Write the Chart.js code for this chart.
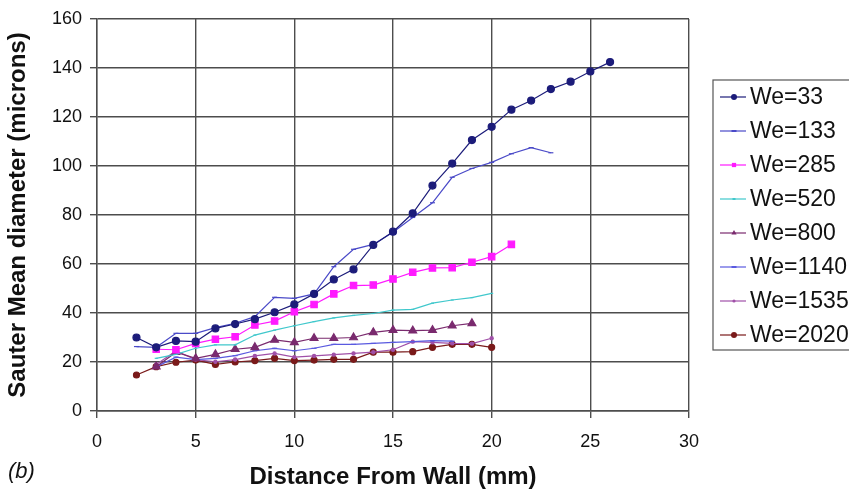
<!DOCTYPE html>
<html>
<head>
<meta charset="utf-8">
<script src="https://cdn.jsdelivr.net/npm/chart.js@4"></script>
<style>
  html, body { margin: 0; padding: 0; background: #fff; overflow: hidden; }
  canvas { display: block; }
</style>
</head>
<body>
<canvas id="myChart" width="849" height="494"></canvas>
<script>
'use strict';

//********************* Data ************************************************/

let seriesNames = ['We=33', 'We=133', 'We=285', 'We=520', 'We=800', 'We=1140', 'We=1535', 'We=2020'];

let we33X = [2, 3, 4, 5, 6, 7, 8, 9, 10, 11, 12, 13, 14, 15, 16, 17, 18, 19, 20, 21, 22, 23, 24, 25, 26];
let we33Y = [30, 26, 28.6, 28.3, 33.7, 35.5, 37.5, 40.3, 43.5, 47.8, 53.7, 57.8, 67.8, 73.2, 80.7, 92, 101, 110.6, 116, 123, 126.7, 131.4, 134.4, 138.6, 142.4];

let we133X = [2, 3, 4, 5, 6, 7, 8, 9, 10, 11, 12, 13, 14, 15, 16, 17, 18, 19, 20, 21, 22, 23];
let we133Y = [26.3, 26, 31.7, 31.7, 34, 35.8, 38.5, 46.4, 46, 47.8, 58.9, 66, 68, 73, 79, 85, 95.4, 99, 101.5, 105, 107.5, 105.4];

let we285X = [3, 4, 5, 6, 7, 8, 9, 10, 11, 12, 13, 14, 15, 16, 17, 18, 19, 20, 21];
let we285Y = [25.2, 25, 27.6, 29.3, 30.3, 35.1, 36.7, 40.5, 43.5, 47.8, 51.2, 51.4, 53.9, 56.6, 58.4, 58.5, 60.7, 63, 68];

let we520X = [3, 4, 5, 6, 7, 8, 9, 10, 11, 12, 13, 14, 15, 16, 17, 18, 19, 20];
let we520Y = [21.5, 23.1, 25.6, 27, 27, 31, 33, 34.8, 36.5, 38, 39, 39.8, 41.2, 41.5, 44, 45.3, 46.3, 48];

let we800X = [3, 4, 5, 6, 7, 8, 9, 10, 11, 12, 13, 14, 15, 16, 17, 18, 19];
let we800Y = [18.1, 24, 21.5, 23.1, 25.2, 26, 29, 28, 29.7, 29.7, 30, 32.1, 33, 32.8, 33, 34.8, 35.8];

let we1140X = [3, 4, 5, 6, 7, 8, 9, 10, 11, 12, 13, 14, 15, 16, 17, 18];
let we1140Y = [18, 22, 21, 21.5, 22.6, 24.6, 25.6, 24.6, 25.6, 27.2, 27.2, 27.6, 28, 28.3, 28.7, 28.5];

let we1535X = [3, 4, 5, 6, 7, 8, 9, 10, 11, 12, 13, 14, 15, 16, 17, 18, 19, 20];
let we1535Y = [19, 24.5, 21, 20.1, 21, 22.5, 23.5, 22, 22.5, 23, 23.5, 24, 25, 28.3, 28, 27.6, 27.5, 29.7];

let we2020X = [2, 3, 4, 5, 6, 7, 8, 9, 10, 11, 12, 13, 14, 15, 16, 17, 18, 19, 20];
let we2020Y = [14.7, 18.1, 19.9, 20.8, 19, 20, 20.6, 21.5, 20.6, 20.8, 21.1, 21.1, 24, 24, 24.2, 26, 27.2, 27.2, 26];

let xTicks = [0, 5, 10, 15, 20, 25, 30];
let yTicks = [0, 20, 40, 60, 80, 100, 120, 140, 160];

//********************** Styles *********************************/

let allX = [we33X, we133X, we285X, we520X, we800X, we1140X, we1535X, we2020X];
let allY = [we33Y, we133Y, we285Y, we520Y, we800Y, we1140Y, we1535Y, we2020Y];
let lineColors = ['#1c1c7a', '#4a4ac8', '#ff1aff', '#40c8cc', '#7a2a6e', '#5a5ae0', '#a050a8', '#7a1a1a'];
let markerStyles = ['circle', 'line', 'rect', 'line', 'triangle', 'line', 'circle', 'circle'];
let markerSizes = [3.5, 2.5, 4.5, 1.5, 4.5, 2.5, 1.6, 3];

let fontFamily = '"Liberation Sans", Arial, Helvetica, sans-serif';
let gridColor = '#4d4d4d';

function makePoints(xs, ys) {
  let pts = [];
  for (let i = 0; i < xs.length; i++) {
    pts.push({ x: xs[i], y: ys[i] });
  }
  return pts;
}

let datasets = [];
for (let i = 0; i < seriesNames.length; i++) {
  datasets.push({
    label: seriesNames[i],
    data: makePoints(allX[i], allY[i]),
    borderColor: lineColors[i],
    backgroundColor: lineColors[i],
    borderWidth: 1.2,
    pointStyle: markerStyles[i],
    pointRadius: markerSizes[i],
    pointBorderWidth: 1.2,
    pointHoverRadius: markerSizes[i],
    tension: 0,
    fill: false
  });
}

//********************** Helper: legend marker *********************/

function drawMarker(ctx, style, x, y, r, color) {
  ctx.save();
  ctx.fillStyle = color;
  ctx.strokeStyle = color;
  ctx.lineWidth = 1.2;
  ctx.beginPath();
  if (style === 'circle') {
    ctx.arc(x, y, r, 0, Math.PI * 2);
    ctx.fill();
  } else if (style === 'rect') {
    let s = r * Math.SQRT2;
    ctx.fillRect(x - s / 2, y - s / 2, s, s);
  } else if (style === 'triangle') {
    ctx.moveTo(x, y - r);
    ctx.lineTo(x + r * 0.87, y + r * 0.5);
    ctx.lineTo(x - r * 0.87, y + r * 0.5);
    ctx.closePath();
    ctx.fill();
  } else {
    ctx.lineWidth = 2;
    ctx.moveTo(x - r, y);
    ctx.lineTo(x + r, y);
    ctx.stroke();
  }
  ctx.restore();
}

let boxLegend = {
  id: 'boxLegend',
  afterDraw(chart) {
    let ctx = chart.ctx;
    let left = 713;
    let top = 80;
    let rowH = 34;
    ctx.save();
    ctx.strokeStyle = '#555';
    ctx.lineWidth = 1.2;
    ctx.strokeRect(left, top, 160, 270);
    ctx.font = '23px ' + fontFamily;
    ctx.textBaseline = 'middle';
    chart.data.datasets.forEach(function (ds, i) {
      let y = 97 + i * rowH;
      ctx.strokeStyle = ds.borderColor;
      ctx.lineWidth = 1.2;
      ctx.beginPath();
      ctx.moveTo(left + 7, y);
      ctx.lineTo(left + 33, y);
      ctx.stroke();
      drawMarker(ctx, ds.pointStyle, left + 21, y, Math.min(ds.pointRadius, 3), ds.borderColor);
      ctx.fillStyle = '#111';
      ctx.fillText(ds.label, left + 37, y + 1);
    });
    // panel label
    ctx.font = 'italic 22px ' + fontFamily;
    ctx.textBaseline = 'alphabetic';
    ctx.fillStyle = '#111';
    ctx.fillText('(b)', 8, 478);
    ctx.restore();
  }
};

//********************** Chart *********************************/

let ctx = document.getElementById('myChart').getContext('2d');

let myChart = new Chart(ctx, {
  type: 'line',
  data: { datasets: datasets },
  plugins: [boxLegend],
  options: {
    responsive: false,
    animation: false,
    devicePixelRatio: 1,
    layout: { padding: { left: 0, right: 160, top: 19, bottom: 0 } },
    plugins: {
      legend: { display: false },
      tooltip: { enabled: false }
    },
    scales: {
      x: {
        type: 'linear',
        min: 0,
        max: 30,
        afterFit: function (scale) { scale.height = 83; },
        afterBuildTicks: function (scale) {
          scale.ticks = xTicks.map(function (v) { return { value: v }; });
        },
        ticks: {
          color: '#111',
          font: { family: fontFamily, size: 18 },
          padding: 13,
          maxRotation: 0
        },
        grid: { color: gridColor, lineWidth: 1.4, tickLength: 7, tickColor: gridColor },
        border: { color: gridColor, width: 1.4 },
        title: {
          display: true,
          text: 'Distance From Wall (mm)',
          color: '#111',
          font: { family: fontFamily, size: 24, weight: 'bold' },
          padding: { top: 0, bottom: 2 }
        }
      },
      y: {
        min: 0,
        max: 160,
        afterFit: function (scale) { scale.width = 97; },
        afterBuildTicks: function (scale) {
          scale.ticks = yTicks.map(function (v) { return { value: v }; });
        },
        ticks: {
          color: '#111',
          font: { family: fontFamily, size: 18 },
          padding: 8
        },
        grid: { color: gridColor, lineWidth: 1.4, tickLength: 7, tickColor: gridColor },
        border: { color: gridColor, width: 1.4 },
        title: {
          display: true,
          text: 'Sauter Mean diameter (microns)',
          color: '#111',
          font: { family: fontFamily, size: 24, weight: 'bold' },
          padding: { top: 4, bottom: 0 }
        }
      }
    }
  }
});
</script>
</body>
</html>
